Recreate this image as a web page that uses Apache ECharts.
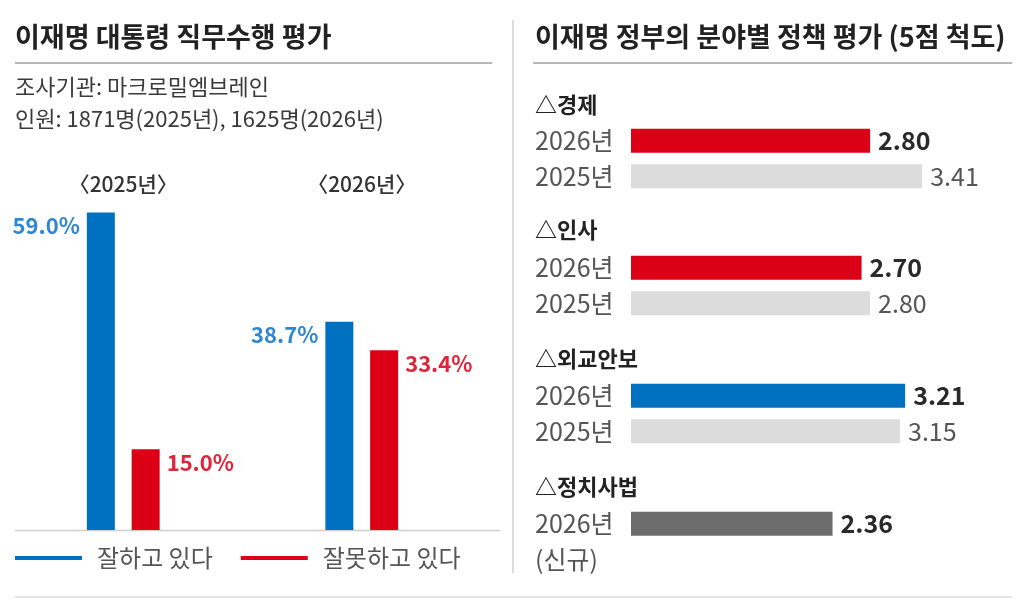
<!DOCTYPE html>
<html>
<head>
<meta charset="utf-8">
<script src="https://cdn.jsdelivr.net/npm/echarts@6/dist/echarts.min.js"></script>
<style>
  html, body { margin: 0; padding: 0; background: #fff; }
  #chart { width: 1026px; height: 612px; }
</style>
</head>
<body>
<div id="chart"></div>
<script>
// 직무수행 평가 (%)
var groups = ['〈2025년〉', '〈2026년〉'];
var approve = [59.0, 38.7];
var disapprove = [15.0, 33.4];

// 분야별 정책 평가 (5점 척도)
var fields = ['△경제', '△인사', '△외교안보', '△정치사법'];
var rowLabels = [['2026년', '2025년'], ['2026년', '2025년'], ['2026년', '2025년'], ['2026년', '(신규)']];
var score2026 = [2.80, 2.70, 3.21, 2.36];
var score2025 = [3.41, 2.80, 3.15, null];

var FONT = '"Noto Sans CJK KR", "Noto Sans", sans-serif';
var BLUE = '#0071c1', RED = '#dc0017', LIGHT = '#dcdcdc', DARK = '#6d6d6d';
var barColors2026 = [RED, RED, BLUE, DARK];
var gridTops = [123, 250, 378, 506];
var headerTops = [94, 219, 348, 476];

var chart = echarts.init(document.getElementById('chart'));

var titles = [
    {text: '이재명 대통령 직무수행 평가', left: 15, top: 23, padding: 0,
        textStyle: {fontFamily: FONT, fontSize: 27, fontWeight: 'bold', color: '#222'}},
    {text: '조사기관: 마크로밀엠브레인', left: 15, top: 76, padding: 0,
        textStyle: {fontFamily: FONT, fontSize: 22, fontWeight: 'normal', color: '#3a3a3a'}},
    {text: '인원: 1871명(2025년), 1625명(2026년)', left: 15, top: 108, padding: 0,
        textStyle: {fontFamily: FONT, fontSize: 22, fontWeight: 'normal', color: '#3a3a3a'}},
    {text: '이재명 정부의 분야별 정책 평가 (5점 척도)', left: 535, top: 23, padding: 0,
        textStyle: {fontFamily: FONT, fontSize: 27, fontWeight: 'bold', color: '#222'}}
];
fields.forEach(function(f, i) {
    titles.push({text: f, left: 535, top: headerTops[i], padding: 0,
        textStyle: {fontFamily: FONT, fontSize: 22, fontWeight: 'bold', color: '#222'}});
});

var grids = [{left: 4, width: 477, top: 207, bottom: 612 - 530}];
var xAxes = [{
    gridIndex: 0, type: 'category', data: groups, position: 'top',
    axisLine: {show: false}, axisTick: {show: false},
    axisLabel: {fontFamily: FONT, fontSize: 21, fontWeight: 500, color: '#333', margin: 12}
}];
var yAxes = [{gridIndex: 0, type: 'value', min: 0, max: 60, show: false}];
var series = [
    {
        name: '잘하고 있다', type: 'bar', xAxisIndex: 0, yAxisIndex: 0,
        data: approve, barWidth: 28, barGap: '60%',
        itemStyle: {color: BLUE},
        label: {show: true, position: [-7, 2], align: 'right', verticalAlign: 'top',
            formatter: function(p) { return p.value.toFixed(1) + '%'; },
            fontFamily: FONT, fontSize: 22, fontWeight: 'bold', color: '#2f87d3'}
    },
    {
        name: '잘못하고 있다', type: 'bar', xAxisIndex: 0, yAxisIndex: 0,
        data: disapprove, barWidth: 28, barGap: '60%',
        itemStyle: {color: RED},
        label: {show: true, position: ['100%', 2], offset: [7, 0], align: 'left', verticalAlign: 'top',
            formatter: function(p) { return p.value.toFixed(1) + '%'; },
            fontFamily: FONT, fontSize: 22, fontWeight: 'bold', color: '#e1243a'}
    }
];

fields.forEach(function(f, i) {
    var gi = i + 1;
    grids.push({left: 631, right: 1026 - 972.6, top: gridTops[i], height: 71});
    xAxes.push({gridIndex: gi, type: 'value', min: 0, max: 4, show: false});
    yAxes.push({
        gridIndex: gi, type: 'category', inverse: true, data: rowLabels[i],
        axisLine: {show: false}, axisTick: {show: false},
        axisLabel: {fontFamily: FONT, fontSize: 25, color: '#555', align: 'left', margin: 96}
    });
    var items = [{
        value: score2026[i],
        itemStyle: {color: barColors2026[i]},
        label: {fontWeight: 'bold', color: '#2a2a2a'}
    }];
    items.push(score2025[i] == null ? '-' : {
        value: score2025[i],
        itemStyle: {color: LIGHT},
        label: {fontWeight: 'normal', color: '#555'}
    });
    series.push({
        type: 'bar', xAxisIndex: gi, yAxisIndex: gi, data: items, barWidth: 24,
        label: {show: true, position: 'right', distance: 8,
            formatter: function(p) { return p.value.toFixed(2); },
            fontFamily: FONT, fontSize: 25}
    });
});

var option = {
    backgroundColor: '#fff',
    animation: false,
    title: titles,
    grid: grids,
    xAxis: xAxes,
    yAxis: yAxes,
    series: series,
    legend: {
        data: ['잘하고 있다', '잘못하고 있다'],
        left: 15, top: 546, padding: 0,
        icon: 'rect', itemWidth: 67, itemHeight: 4, itemGap: 28,
        selectedMode: false,
        textStyle: {fontFamily: FONT, fontSize: 24, color: '#555', padding: [0, 0, 0, 10]}
    },
    graphic: [
        // 제목 아래 구분선
        {type: 'line', shape: {x1: 15, y1: 63, x2: 492, y2: 63}, style: {stroke: '#a0a0a0', lineWidth: 1.5}},
        {type: 'line', shape: {x1: 533, y1: 63, x2: 1012, y2: 63}, style: {stroke: '#a0a0a0', lineWidth: 1.5}},
        // 좌우 구분선
        {type: 'line', shape: {x1: 513, y1: 20, x2: 513, y2: 573}, style: {stroke: '#dcdcdc', lineWidth: 2}},
        // 막대 기준선
        {type: 'line', shape: {x1: 15, y1: 530.5, x2: 500, y2: 530.5}, style: {stroke: '#cfcfcf', lineWidth: 1.5}},
        // 하단선
        {type: 'line', shape: {x1: 15, y1: 597, x2: 1012, y2: 597}, style: {stroke: '#e3e3e3', lineWidth: 2}}
    ]
};
chart.setOption(option);
</script>
</body>
</html>
